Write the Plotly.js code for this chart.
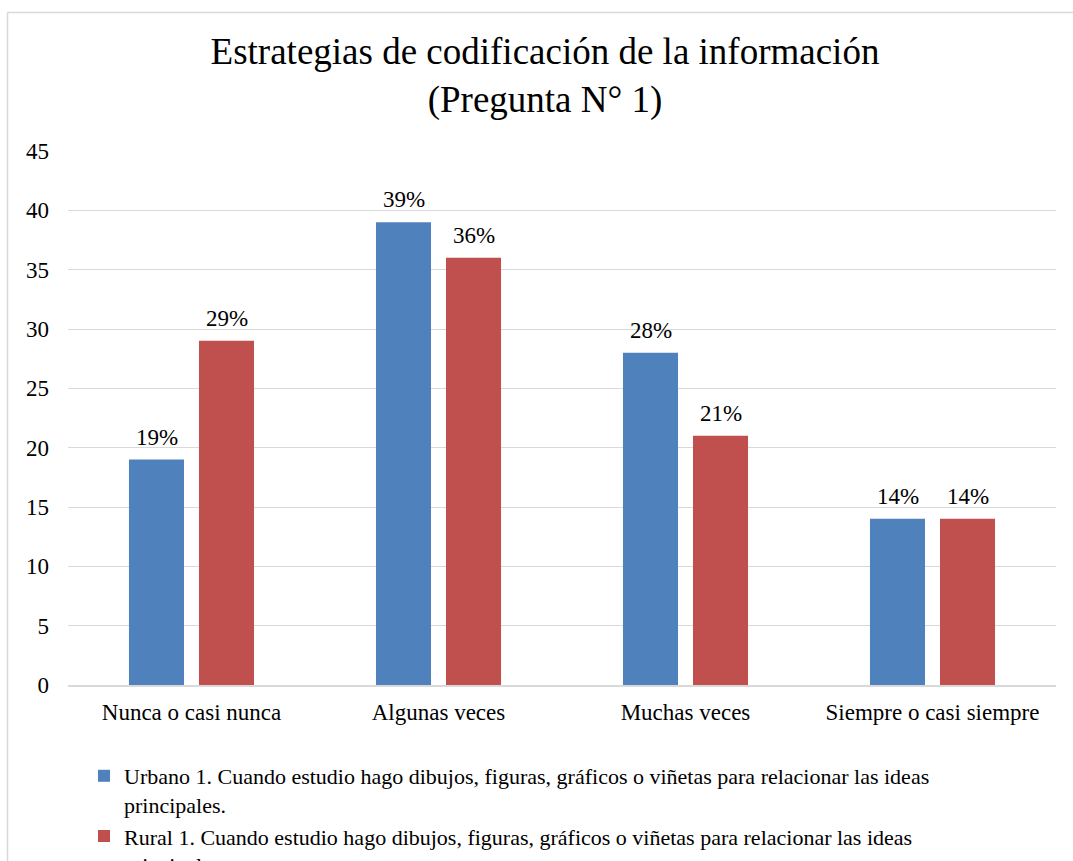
<!DOCTYPE html>
<html>
<head>
<meta charset="utf-8">
<script src="https://cdn.plot.ly/plotly-3.0.1.min.js"></script>
<style>html,body{margin:0;padding:0;background:#fff;}#chart{width:1073px;height:861px;}</style>
</head>
<body>
<div id="chart"></div>
<script>
const categories = ["Nunca o casi nunca", "Algunas veces", "Muchas veces", "Siempre o casi siempre"];
const urbano = [19, 39, 28, 14];
const rural = [29, 36, 21, 14];
const seriesNames = [
  "Urbano 1. Cuando estudio hago dibujos, figuras, gráficos o viñetas para relacionar las ideas<br>principales.",
  "Rural 1. Cuando estudio hago dibujos, figuras, gráficos o viñetas para relacionar las ideas<br>principales."
];
const yTicks = [0, 5, 10, 15, 20, 25, 30, 35, 40, 45];

const FONT = "Liberation Serif, Times New Roman, serif";
const colors = ["#4F81BD", "#C0504D"];
const allSeries = [urbano, rural];

const traces = allSeries.map((vals, i) => ({
  type: "bar",
  x: categories,
  y: vals,
  name: seriesNames[i],
  marker: {color: colors[i]},
  hoverinfo: "none"
}));

const annotations = [];
allSeries.forEach((vals, i) => {
  vals.forEach((v, j) => {
    annotations.push({
      x: categories[j], y: v, xref: "x", yref: "y",
      text: v + "%", showarrow: false,
      yanchor: "bottom", yshift: 8, xshift: i === 0 ? -35 : 35,
      font: {family: FONT, size: 23, color: "#000"}
    });
  });
});

const layout = {
  width: 1073, height: 861,
  margin: {l: 68, r: 17, t: 151, b: 176, autoexpand: false},
  paper_bgcolor: "#fff", plot_bgcolor: "#fff",
  font: {family: FONT, size: 23, color: "#000"},
  title: {
    text: "Estrategias de codificación de la información<br>(Pregunta N° 1)",
    font: {family: FONT, size: 37, color: "#000"},
    x: 545 / 1073, xref: "container", xanchor: "center",
    y: 1 - 64 / 861, yref: "container", yanchor: "top"
  },
  barmode: "group",
  bargap: 0.433,
  bargroupgap: 0.214,
  xaxis: {
    type: "category",
    showgrid: false,
    showline: true, linecolor: "#d9d9d9", linewidth: 1.5,
    ticks: "", ticklabelstandoff: 6,
    tickfont: {family: FONT, size: 23, color: "#000"},
    automargin: false
  },
  yaxis: {
    range: [0, 45],
    tickvals: yTicks,
    ticktext: yTicks.map(String),
    showgrid: true, gridcolor: "#d9d9d9", gridwidth: 1,
    zeroline: false, showline: false,
    ticks: "", ticklabelstandoff: 18,
    tickfont: {family: FONT, size: 23, color: "#000"},
    automargin: false
  },
  showlegend: true,
  legend: {
    x: (84 - 68) / 988, xanchor: "left",
    y: (685 - 755) / 534, yanchor: "top",
    orientation: "v",
    valign: "top",
    tracegroupgap: 0,
    itemwidth: 30,
    font: {family: FONT, size: 22, color: "#000"},
    bgcolor: "rgba(0,0,0,0)"
  },
  annotations: annotations,
  shapes: [
    {type: "line", xref: "paper", yref: "paper",
     x0: (7.5 - 68) / 988, x1: 1.1, y0: (685 - 12.5) / 534, y1: (685 - 12.5) / 534,
     line: {color: "#d9d9d9", width: 1.5}},
    {type: "line", xref: "paper", yref: "paper",
     x0: (7.5 - 68) / 988, x1: (7.5 - 68) / 988, y0: (685 - 12.5) / 534, y1: -0.5,
     line: {color: "#d9d9d9", width: 1.5}}
  ]
};

Plotly.newPlot("chart", traces, layout, {displayModeBar: false, staticPlot: true});
</script>
</body>
</html>
